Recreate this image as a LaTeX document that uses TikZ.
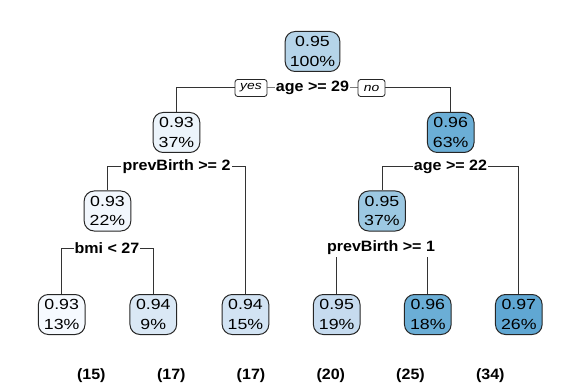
\documentclass[tikz,border=0pt]{standalone}
\usepackage{fontspec}
\setmainfont{Liberation Sans}
\usetikzlibrary{backgrounds}
\newcommand\sx[1]{\scalebox{1.21}[1]{#1}}
\newcommand\bx[1]{\scalebox{1.07}[1]{#1}}
\definecolor{cRoot}{HTML}{B5D4E9}
\definecolor{cNa}{HTML}{ECF4FB}
\definecolor{cNb}{HTML}{6BAED6}
\definecolor{cNc}{HTML}{F2F7FD}
\definecolor{cNd}{HTML}{9CC8E2}
\definecolor{cLa}{HTML}{F6FAFF}
\definecolor{cLb}{HTML}{DAE8F5}
\definecolor{cLc}{HTML}{D2E3F3}
\definecolor{cLd}{HTML}{C6DBEF}
\definecolor{cLe}{HTML}{6BAED6}
\definecolor{cLf}{HTML}{60A7D3}
\tikzset{
  tnode/.style={draw=black!85, line width=0.75pt, rounded corners=7.5pt, align=center,
    font=\fontsize{11}{14.5}\selectfont, inner xsep=3.5pt, inner ysep=0pt,
    minimum height=30pt, minimum width=35pt},
  splitlbl/.style={fill=white, inner xsep=0.8pt, inner ysep=0pt, minimum height=14pt,
    font=\bfseries\fontsize{11.25}{12}\selectfont},
  yn/.style={draw=black!85, fill=white, rounded corners=2pt, line width=0.6pt,
    font=\itshape\fontsize{8.6}{10}\selectfont, minimum height=12.75pt,
    inner xsep=1pt, inner ysep=0pt},
  edge/.style={draw=black!80, line width=0.75pt},
  cnt/.style={font=\bfseries\fontsize{11.25}{12}\selectfont}
}
\begin{document}
\begin{tikzpicture}[x=0.75pt,y=-0.75pt]
\useasboundingbox (0,0) rectangle (581,388);
% nodes
\node[tnode, fill=cRoot] (root) at (312.5,51.5) {\sx{0.95}\\\sx{100\%}};
\node[tnode, fill=cNa] (n2) at (176.5,132.5) {\sx{0.93}\\\sx{37\%}};
\node[tnode, fill=cNb] (n3) at (450.7,132.5) {\sx{0.96}\\\sx{63\%}};
\node[tnode, fill=cNc] (n4) at (107.5,211) {\sx{0.93}\\\sx{22\%}};
\node[tnode, fill=cNd] (n5) at (382,211) {\sx{0.95}\\\sx{37\%}};
\node[tnode, fill=cLa] (l1) at (61.7,314.5) {\sx{0.93}\\\sx{13\%}};
\node[tnode, fill=cLb] (l2) at (153.3,314.5) {\sx{0.94}\\\sx{9\%}};
\node[tnode, fill=cLc] (l3) at (245.5,314.5) {\sx{0.94}\\\sx{15\%}};
\node[tnode, fill=cLd] (l4) at (336.7,314.5) {\sx{0.95}\\\sx{19\%}};
\node[tnode, fill=cLe] (l5) at (427.8,314.5) {\sx{0.96}\\\sx{18\%}};
\node[tnode, fill=cLf] (l6) at (518.8,314.5) {\sx{0.97}\\\sx{26\%}};
% split labels
\node[splitlbl] (s1) at (312.5,88) {\bx{age >= 29}};
\node[yn, minimum width=24pt] (yes) at (251,88) {\sx{yes}};
\node[yn, minimum width=20.25pt] (no) at (371.5,88) {\sx{no}};
\node[splitlbl] (s2) at (176.5,166.7) {\bx{prevBirth >= 2}};
\node[splitlbl] (s3) at (450.5,167) {\bx{age >= 22}};
\node[splitlbl] (s4) at (107,248.5) {\bx{bmi < 27}};
\node[splitlbl] (s5) at (381,248) {\bx{prevBirth >= 1}};
% counts
\node[cnt] (c1) at (91.3,376) {\bx{(15)}};
\node[cnt] (c2) at (171.3,376) {\bx{(17)}};
\node[cnt] (c3) at (251,376) {\bx{(17)}};
\node[cnt] (c4) at (330.8,376) {\bx{(20)}};
\node[cnt] (c5) at (410.5,376) {\bx{(25)}};
\node[cnt] (c6) at (490.3,376) {\bx{(34)}};
% edges
\begin{scope}[on background layer]
\draw[edge] (n2.north) |- (s1.center) -| (n3.north);
\draw[edge] (n4.north) |- (s2.center) -| (l3.north);
\draw[edge] (n5.north) |- (s3.center) -| (l6.north);
\draw[edge] (l1.north) |- (s4.center) -| (l2.north);
\draw[edge] (l4.north) |- (s5.center) -| (l5.north);
\end{scope}
\end{tikzpicture}
\end{document}
